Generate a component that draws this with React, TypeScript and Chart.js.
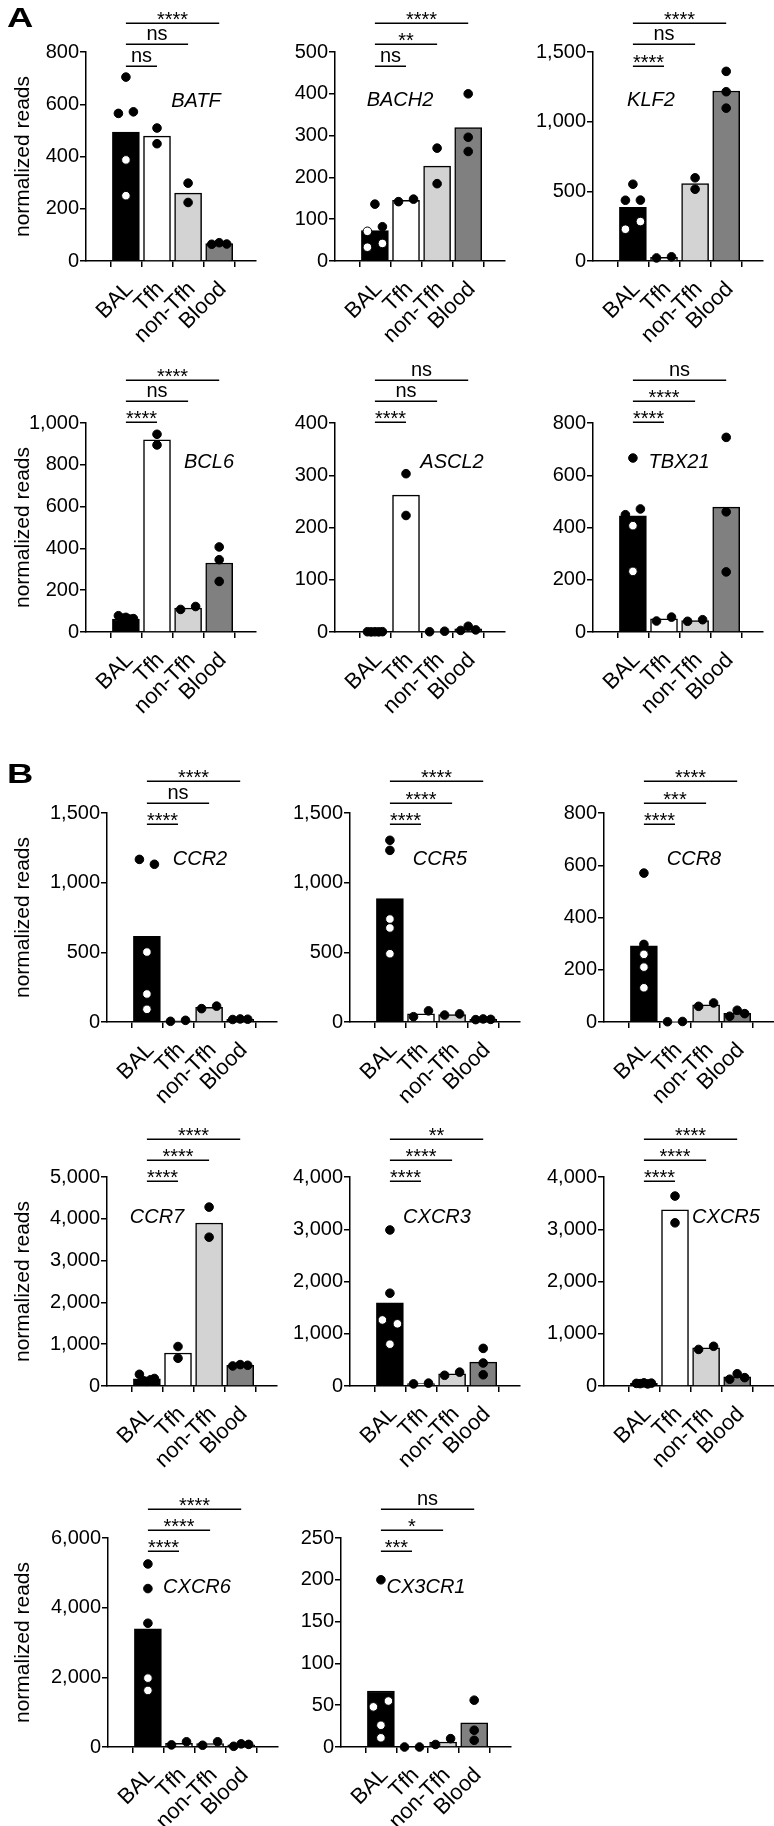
import React, { useEffect, useRef } from 'react';
import { Chart, registerables } from 'chart.js';

Chart.register(...registerables);

// ---------------- data ----------------
const CATEGORIES = ['BAL', 'Tfh', 'non-Tfh', 'Blood'];
const GENES = ['BATF', 'BACH2', 'KLF2', 'BCL6', 'ASCL2', 'TBX21', 'CCR2', 'CCR5', 'CCR8', 'CCR7', 'CXCR3', 'CXCR5', 'CXCR6', 'CX3CR1'];
const Y_MAX = [800, 500, 1500, 1000, 400, 800, 1500, 1500, 800, 5000, 4000, 4000, 6000, 250];
const Y_STEP = [200, 100, 500, 200, 100, 200, 500, 500, 200, 1000, 1000, 1000, 2000, 50];

const BATF_BARS = [493, 478, 260, 67];
const BATF_PTS = [[704, 565, 571, 387, 250], [509, 449], [298, 224], [64, 70, 65]];
const BACH2_BARS = [73, 145, 227, 319];
const BACH2_PTS = [[136, 71, 82, 33, 42], [142, 148], [270, 185], [400, 296, 262]];
const KLF2_BARS = [385, 26, 555, 1220];
const KLF2_PTS = [[551, 436, 437, 228, 283], [22, 30], [597, 515], [1361, 1215, 1097]];
const BCL6_BARS = [62, 920, 115, 330];
const BCL6_PTS = [[78, 66, 70, 62, 64], [946, 895], [108, 122], [407, 346, 242]];
const ASCL2_BARS = [0.4, 262, 1, 6];
const ASCL2_PTS = [[0.5, 0.2, 0.4, 0.3, 0.6], [303, 223], [0.5, 1.5], [3, 11, 4]];
const TBX21_BARS = [445, 50, 44, 478];
const TBX21_PTS = [[666, 449, 471, 407, 232], [42, 57], [41, 47], [745, 460, 230]];
const CCR2_BARS = [615, 8, 105, 20];
const CCR2_PTS = [[1167, 1132, 502, 201, 91], [5, 12], [96, 114], [18, 22, 20]];
const CCR5_BARS = [885, 58, 54, 19];
const CCR5_PTS = [[1304, 1232, 739, 675, 490], [38, 80], [50, 58], [17, 22, 19]];
const CCR8_BARS = [292, 1.5, 66, 33];
const CCR8_PTS = [[570, 297, 259, 210, 131], [1, 2], [60, 73], [22, 45, 32]];
const CCR7_BARS = [170, 790, 3900, 496];
const CCR7_PTS = [[280, 130, 110, 150, 180], [944, 664], [4280, 3560], [480, 512, 496]];
const CXCR3_BARS = [1590, 48, 235, 458];
const CXCR3_PTS = [[2986, 1776, 1264, 1190, 800], [40, 55], [205, 265], [720, 440, 215]];
const CXCR5_BARS = [50, 3370, 730, 175];
const CXCR5_PTS = [[50, 45, 60, 40, 55], [3635, 3123], [700, 760], [130, 235, 160]];
const CXCR6_BARS = [3390, 105, 100, 62];
const CXCR6_PTS = [[5255, 4548, 3553, 1977, 1624], [60, 150], [50, 150], [20, 90, 75]];
const CX3CR1_BARS = [67, 0, 6, 29];
const CX3CR1_PTS = [[200, 48, 55, 26, 11], [0, 0], [3, 10], [56, 20, 8]];

// significance: [BAL vs Tfh, BAL vs non-Tfh, BAL vs Blood]
const SIG = [
  ['ns', 'ns', '****'],
  ['ns', '**', '****'],
  ['****', 'ns', '****'],
  ['****', 'ns', '****'],
  ['****', 'ns', 'ns'],
  ['****', '****', 'ns'],
  ['****', 'ns', '****'],
  ['****', '****', '****'],
  ['****', '***', '****'],
  ['****', '****', '****'],
  ['****', '****', '**'],
  ['****', '****', '****'],
  ['****', '****', '****'],
  ['***', '*', 'ns'],
];

const ALL_BARS = [BATF_BARS, BACH2_BARS, KLF2_BARS, BCL6_BARS, ASCL2_BARS, TBX21_BARS, CCR2_BARS, CCR5_BARS, CCR8_BARS, CCR7_BARS, CXCR3_BARS, CXCR5_BARS, CXCR6_BARS, CX3CR1_BARS];
const ALL_PTS = [BATF_PTS, BACH2_PTS, KLF2_PTS, BCL6_PTS, ASCL2_PTS, TBX21_PTS, CCR2_PTS, CCR5_PTS, CCR8_PTS, CCR7_PTS, CXCR3_PTS, CXCR5_PTS, CXCR6_PTS, CX3CR1_PTS];

// ---------------- layout / style ----------------
const FONT = '"Liberation Sans", Arial, Helvetica, sans-serif';
const BAR_COLORS = ['#000000', '#ffffff', '#d3d3d3', '#808080'];
const ROW_TOP = [52, 423, 813, 1177, 1538];
const COL_AXIS = [[86, 335, 593], [86, 335, 593], [107, 350, 604], [107, 350, 604], [108, 341]];
const BRACKET_OFF = [[13.7, -7.7, -28.7], [-0.7, -21.7, -43.3], [10.6, -10.4, -31.7], [4.3, -16.7, -37.7], [13, -8.3, -29.3]];
const LABEL_POS = [[110, 55], [65, 54], [58, 54], [123, 45], [117, 45], [86, 45], [93, 52], [90, 52], [90, 52], [50, 46], [87, 46], [122, 46], [89, 55], [85, 55]];
const PLOT_W = 170;
const PLOT_H = 209;
const PAD_TOP = 80;
const X_AXIS_H = 100;
const PAD_RIGHT = 14;
const X_MIN = -0.6;
const X_MAX = 3.5;
const DOT_R = 4.3;
const SPREAD = 10;
const XLAB_DX = 8;
const XLAB_DY = 29;
const XLAB_SIZE = 22;

function spreadOffsets(values: number[], pxPerUnit: number): number[] {
  const n = values.length;
  const off = new Array(n).fill(0);
  if (n < 2) return off;
  const idx = values.map((_, i) => i).sort((a, b) => values[a] - values[b]);
  const clusters: number[][] = [];
  let cur = [idx[0]];
  for (let k = 1; k < n; k++) {
    if ((values[idx[k]] - values[idx[k - 1]]) * pxPerUnit < 8.3) cur.push(idx[k]);
    else { clusters.push(cur); cur = [idx[k]]; }
  }
  clusters.push(cur);
  clusters.forEach((c) => {
    if (c.length > 1) {
      const ordered = [...c].sort((a, b) => a - b);
      ordered.forEach((i, j) => { off[i] = -SPREAD + (2 * SPREAD * j) / (c.length - 1); });
    }
  });
  return off;
}

const annotPlugin = {
  id: 'annot',
  afterDraw(chart: any, _args: any, opts: any) {
    const { ctx, chartArea, scales } = chart;
    const p = opts.panel;
    if (!p) return;
    ctx.save();
    ctx.fillStyle = '#000';
    ctx.strokeStyle = '#000';
    ctx.lineWidth = 1.5;
    // significance brackets
    p.sig.forEach((lab: string, k: number) => {
      const y = Math.round(chartArea.top + p.bracketOff[k]) + 0.25;
      const x1 = scales.x.getPixelForValue(0);
      const x2 = scales.x.getPixelForValue(k + 1);
      ctx.beginPath();
      ctx.moveTo(x1, y);
      ctx.lineTo(x2, y);
      ctx.stroke();
      const xm = (x1 + x2) / 2;
      ctx.textAlign = 'center';
      ctx.textBaseline = 'alphabetic';
      ctx.font = `20px ${FONT}`;
      if (lab === 'ns') {
        ctx.fillText(lab, xm, y - 4);
      } else {
        const m = ctx.measureText(lab);
        const shift = (m.actualBoundingBoxAscent - m.actualBoundingBoxDescent) / 2;
        ctx.fillText(lab, xm, y - 7 + shift);
      }
    });
    // rotated category labels
    ctx.font = `${XLAB_SIZE}px ${FONT}`;
    CATEGORIES.forEach((lab, k) => {
      const tx = scales.x.getPixelForValue(k);
      ctx.save();
      ctx.translate(tx + XLAB_DX, chartArea.bottom + XLAB_DY);
      ctx.rotate(-Math.PI / 4);
      ctx.textAlign = 'right';
      ctx.textBaseline = 'alphabetic';
      ctx.fillText(lab, 0, 0);
      ctx.restore();
    });
    // gene name
    ctx.font = `italic 20px ${FONT}`;
    ctx.textAlign = 'center';
    ctx.textBaseline = 'alphabetic';
    ctx.fillText(p.gene, chartArea.left + p.labelPos[0], chartArea.top + p.labelPos[1]);
    // y-axis title
    if (p.showTitle) {
      ctx.save();
      ctx.translate(23 - p.left, (chartArea.top + chartArea.bottom) / 2);
      ctx.rotate(-Math.PI / 2);
      ctx.font = `21px ${FONT}`;
      ctx.textAlign = 'center';
      ctx.textBaseline = 'middle';
      ctx.fillText('normalized reads', 0, 0);
      ctx.restore();
    }
    // panel letter
    if (p.letter) {
      ctx.save();
      ctx.translate(7 - p.left, p.letterBase - p.top);
      ctx.scale(1.3, 1);
      ctx.font = `bold 28px ${FONT}`;
      ctx.textAlign = 'left';
      ctx.textBaseline = 'alphabetic';
      ctx.fillText(p.letter, 0, 0);
      ctx.restore();
    }
    ctx.restore();
  },
};

function buildPanel(i: number) {
  const row = i < 12 ? Math.floor(i / 3) : 4;
  const col = i < 12 ? i % 3 : i - 12;
  const axis = COL_AXIS[row][col];
  const left = col === 0 ? 0 : axis - 84;
  const yAxisW = axis - left;
  const top = ROW_TOP[row] - PAD_TOP;
  return {
    i,
    gene: GENES[i],
    yMax: Y_MAX[i],
    yStep: Y_STEP[i],
    bars: ALL_BARS[i],
    pts: ALL_PTS[i],
    sig: SIG[i],
    bracketOff: BRACKET_OFF[row],
    labelPos: LABEL_POS[i],
    left,
    top,
    yAxisW,
    w: yAxisW + PLOT_W + PAD_RIGHT,
    h: PAD_TOP + PLOT_H + X_AXIS_H,
    showTitle: col === 0,
    letter: i === 0 ? 'A' : i === 6 ? 'B' : '',
    letterBase: i === 0 ? 27 : 783,
  };
}

function Panel({ idx }: { idx: number }) {
  const ref = useRef<HTMLCanvasElement>(null);
  const p = buildPanel(idx);
  useEffect(() => {
    const pxPerX = PLOT_W / (X_MAX - X_MIN);
    const pxPerY = PLOT_H / p.yMax;
    const pts: { x: number; y: number }[] = [];
    const colors: string[] = [];
    p.pts.forEach((vals: number[], g: number) => {
      const offs = spreadOffsets(vals, pxPerY);
      vals.forEach((v, j) => {
        pts.push({ x: g + offs[j] / pxPerX, y: v });
        const inside = g === 0 && v < p.bars[0] && p.bars[0] * pxPerY > 8.3;
        colors.push(inside ? '#ffffff' : '#000000');
      });
    });
    const chart = new Chart(ref.current as HTMLCanvasElement, {
      type: 'bar',
      data: {
        datasets: [
          {
            type: 'scatter',
            data: pts,
            pointRadius: DOT_R,
            pointBackgroundColor: colors,
            pointBorderColor: '#000000',
            pointBorderWidth: 1,
            clip: false,
            order: 0,
          } as any,
          {
            type: 'bar',
            data: p.bars.map((v: number, k: number) => ({ x: k, y: v })),
            backgroundColor: BAR_COLORS,
            borderColor: '#000000',
            borderWidth: 1.5,
            barThickness: 27,
            clip: false,
            order: 1,
          } as any,
        ],
      },
      options: {
        animation: false,
        responsive: false,
        devicePixelRatio: 1,
        events: [],
        layout: { padding: { top: PAD_TOP, right: PAD_RIGHT, left: 0, bottom: 0 } },
        plugins: {
          legend: { display: false },
          tooltip: { enabled: false },
          annot: { panel: p },
        } as any,
        scales: {
          x: {
            type: 'linear',
            min: X_MIN,
            max: X_MAX,
            bounds: 'data',
            afterBuildTicks: (scale: any) => {
              scale.ticks = CATEGORIES.map((_, k) => ({ value: k }));
            },
            afterFit: (scale: any) => { scale.height = X_AXIS_H; },
            ticks: { display: false, autoSkip: false },
            grid: { drawOnChartArea: false, drawTicks: true, tickLength: 6, color: '#000', lineWidth: 1.5 },
            border: { display: true, color: '#000', width: 1.5 },
          },
          y: {
            type: 'linear',
            min: 0,
            max: p.yMax,
            afterFit: (scale: any) => { scale.width = p.yAxisW; },
            ticks: {
              stepSize: p.yStep,
              color: '#000',
              padding: 1,
              font: { family: FONT, size: 20 },
              callback: (v: any) => Number(v).toLocaleString('en-US'),
            },
            grid: { drawOnChartArea: false, drawTicks: true, tickLength: 6, color: '#000', lineWidth: 1.5 },
            border: { display: true, color: '#000', width: 1.5 },
          },
        },
      } as any,
      plugins: [annotPlugin as any],
    });
    return () => chart.destroy();
  }, []);
  return (
    <canvas
      ref={ref}
      width={p.w}
      height={p.h}
      style={{ position: 'absolute', left: p.left, top: p.top, width: p.w, height: p.h }}
    />
  );
}

export default function App() {
  return (
    <div style={{ position: 'absolute', left: 0, top: 0, width: 774, height: 1826, overflow: 'hidden', background: '#ffffff' }}>
      {GENES.map((g, i) => (
        <Panel key={g} idx={i} />
      ))}
    </div>
  );
}
